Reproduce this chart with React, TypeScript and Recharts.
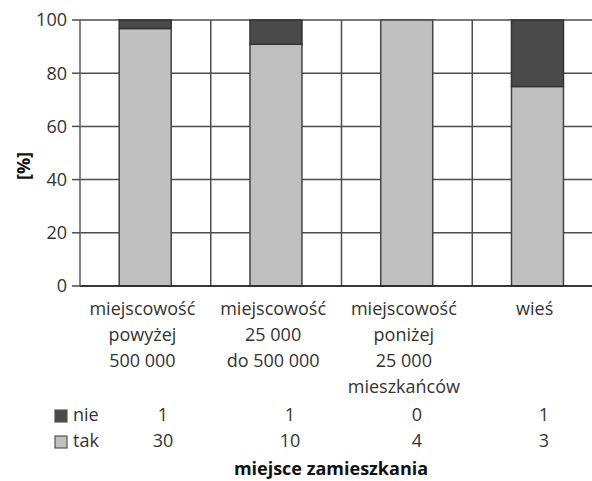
import { BarChart, Bar, XAxis, YAxis, CartesianGrid, Customized } from 'recharts';

// place of residence, split into the lines printed under each bar
const categoryLines = [
    ['miejscowość', 'powyżej', '500 000'],
    ['miejscowość', '25 000', 'do 500 000'],
    ['miejscowość', 'poniżej', '25 000', 'mieszkańców'],
    ['wieś'],
];
const nieCounts = [1, 1, 0, 1];
const takCounts = [30, 10, 4, 3];
const yTicks = [0, 0.2, 0.4, 0.6, 0.8, 1];

const data = categoryLines.map((lines, i) => ({
    name: lines.join(' '),
    nie: nieCounts[i],
    tak: takCounts[i],
}));

const FONT = '"Open Sans", sans-serif';
const TEXT = '#333';
const NIE_FILL = '#4a4a4a';
const TAK_FILL = '#c0c0c0';

function CategoryTick({ x, y, index }: any) {
    const lines = categoryLines[index] || [];
    return (
        <text x={x - 3} y={y} textAnchor="middle" fontSize={18} fill={TEXT} fontFamily={FONT}>
            {lines.map((l, i) => (
                <tspan key={i} x={x - 3} dy={i === 0 ? 29 : 26}>{l}</tspan>
            ))}
        </text>
    );
}

// data table under the axis: legend keys, counts, axis title
function CountTable() {
    const rows = [
        { label: 'nie', fill: NIE_FILL, values: nieCounts, y: 421 },
        { label: 'tak', fill: TAK_FILL, values: takCounts, y: 447 },
    ];
    return (
        <g fontFamily={FONT} fontSize={18} fill={TEXT}>
            {rows.map(r => (
                <g key={r.label}>
                    <rect x={55} y={r.y - 11} width={12} height={12} fill={r.fill} stroke="#555" strokeWidth={1.2} />
                    <text x={73} y={r.y}>{r.label}</text>
                    {r.values.map((v, i) => (
                        <text key={i} x={163 + i * 127} y={r.y} textAnchor="middle">{v}</text>
                    ))}
                </g>
            ))}
            <text x={331} y={475} textAnchor="middle" fontWeight="bold" fill="#111">miejsce zamieszkania</text>
            <text transform="translate(23,166) rotate(-90)" textAnchor="middle" dominantBaseline="central"
                fontWeight="bold" fill="#111">[%]</text>
        </g>
    );
}

export default function App() {
    return (
        <div style={{ position: 'absolute', left: 0, top: 0, width: 592, height: 481, overflow: 'hidden', background: '#fff' }}>
            <BarChart
                width={620}
                height={481}
                data={data}
                stackOffset="expand"
                barCategoryGap="30%"
                margin={{ top: 20, right: 17, left: 20, bottom: 0 }}
            >
                <CartesianGrid
                    stroke="#4d4d4d"
                    strokeWidth={1.5}
                    verticalCoordinatesGenerator={({ offset }: any) =>
                        [1, 2, 3, 4].map(i => offset.left + (i * offset.width) / 4)
                    }
                />
                <XAxis
                    dataKey="name"
                    height={195}
                    interval={0}
                    tickLine={false}
                    tickSize={0}
                    tickMargin={0}
                    axisLine={{ stroke: '#222', strokeWidth: 1.6 }}
                    tick={<CategoryTick />}
                />
                <YAxis
                    width={60}
                    domain={[0, 1]}
                    ticks={yTicks}
                    tickFormatter={(v: number) => String(Math.round(v * 100))}
                    tickSize={8}
                    tickMargin={5}
                    axisLine={{ stroke: '#666', strokeWidth: 1.6 }}
                    tickLine={{ stroke: '#4d4d4d', strokeWidth: 1.5 }}
                    tick={{ fontSize: 18, fill: TEXT, fontFamily: FONT }}
                />
                <Bar dataKey="tak" stackId="a" fill={TAK_FILL} stroke="#444" strokeWidth={1.5} isAnimationActive={false} />
                <Bar dataKey="nie" stackId="a" fill={NIE_FILL} stroke="#333" strokeWidth={1.5} isAnimationActive={false} />
                <Customized component={CountTable} />
            </BarChart>
        </div>
    );
}
